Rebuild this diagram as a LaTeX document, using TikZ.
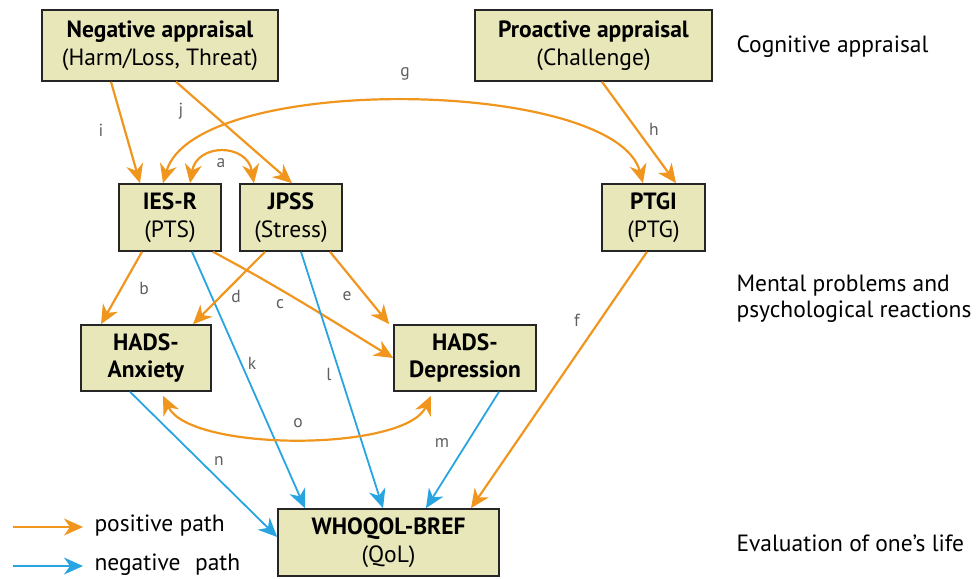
\documentclass[tikz,border=0pt]{standalone}
\usepackage{fontspec}
\setmainfont{PT Sans}[BoldFont={PT Sans Bold}]
\usetikzlibrary{arrows.meta}
\definecolor{pos}{RGB}{240,150,30}
\definecolor{neg}{RGB}{40,165,225}
\definecolor{boxfill}{RGB}{232,231,186}
\definecolor{lblgray}{RGB}{95,95,95}
\begin{document}
\begin{tikzpicture}[x=1pt,y=-1pt,
  box/.style={draw=black!85,line width=1.6pt,fill=boxfill,align=center,inner sep=0pt,
    font=\fontsize{23.5}{27.5}\selectfont},
  side/.style={anchor=west,align=left,font=\fontsize{23.5}{26.5}\selectfont},
  lbl/.style={text=lblgray,font=\fontsize{17.5}{20}\selectfont,inner sep=0pt},
  tipa/.tip={Stealth[length=19pt,width=17pt,inset=6pt]},
  parr/.style={draw=pos,line width=2.2pt,-tipa},
  pboth/.style={draw=pos,line width=2.2pt,tipa-tipa},
  narr/.style={draw=neg,line width=1.8pt,-tipa}]
\useasboundingbox (0,0) rectangle (976,578);

% boxes
\node[box,minimum width=236pt,minimum height=71pt] (negap) at (160,45.5) {\textbf{Negative appraisal}\\(Harm/Loss, Threat)};
\node[box,minimum width=237pt,minimum height=71pt] (proap) at (593.5,45.5) {\textbf{Proactive appraisal}\\(Challenge)};
\node[box,minimum width=102pt,minimum height=67pt] (ies) at (170,217.5) {\textbf{IES-R}\\(PTS)};
\node[box,minimum width=102pt,minimum height=67pt] (jpss) at (291,217.5) {\textbf{JPSS}\\(Stress)};
\node[box,minimum width=103pt,minimum height=67pt] (ptgi) at (653.5,217.5) {\textbf{PTGI}\\(PTG)};
\node[box,minimum width=130pt,minimum height=66pt] (anx) at (146,358) {\textbf{HADS-}\\\textbf{Anxiety}};
\node[box,minimum width=142pt,minimum height=66pt] (dep) at (465,358) {\textbf{HADS-}\\\textbf{Depression}};
\node[box,minimum width=221pt,minimum height=67pt] (who) at (388.5,542.5) {\textbf{WHOQOL-BREF}\\(QoL)};

% side labels
\node[side] (s1) at (733,47) {Cognitive appraisal};
\node[side] (s2) at (733,299) {Mental problems and\\psychological reactions};
\node[side] (s3) at (733,543) {Evaluation of one’s life};

% connectors
\draw[parr] ([xshift=-49pt]negap.south) -- ([xshift=-30pt]ies.north);
\draw[parr] ([xshift=16pt]negap.south) -- ([xshift=1pt]jpss.north);
\draw[parr] ([xshift=8.5pt]proap.south) -- ([xshift=22.5pt]ptgi.north);
\draw[pboth] ([xshift=-7pt]ies.north) .. controls (195,72) and (615,78) .. ([xshift=-10.5pt]ptgi.north);
\draw[pboth] ([xshift=20pt]ies.north) .. controls (197,143) and (247,143) .. ([xshift=-37pt]jpss.north);
\draw[parr] ([xshift=-28pt]ies.south) -- ([xshift=-45pt]anx.north);
\draw[narr] ([xshift=22pt]ies.south) -- ([xshift=-83.5pt]who.north);
\draw[parr] ([xshift=43pt]ies.south) .. controls (285,290) and (350,332) .. (dep.west);
\draw[parr] ([xshift=-26pt]jpss.south) -- ([xshift=47pt]anx.north);
\draw[narr] ([xshift=10pt]jpss.south) -- ([xshift=-5.5pt]who.north);
\draw[parr] ([xshift=39pt]jpss.south) -- ([xshift=-4pt]dep.north west);
\draw[parr] ([xshift=-6.5pt]ptgi.south) -- ([xshift=82.5pt]who.north);
\draw[narr] ([xshift=34pt]dep.south) -- ([xshift=37.5pt]who.north);
\draw[narr] ([xshift=-16pt]anx.south) -- ([yshift=5.5pt]who.west);
\draw[pboth] ([xshift=17pt,yshift=-4pt]anx.south) .. controls (190,452) and (405,452) .. ([xshift=-34pt,yshift=-4pt]dep.south);

% edge labels
\node[lbl] (la) at (221,163) {a};
\node[lbl] (lb) at (144,288) {b};
\node[lbl] (lc) at (280,304) {c};
\node[lbl] (ld) at (236,296) {d};
\node[lbl] (le) at (347,296) {e};
\node[lbl] (lf) at (577,320) {f};
\node[lbl] (lg) at (405,74) {g};
\node[lbl] (lh) at (654,129) {h};
\node[lbl] (li) at (101,130) {i};
\node[lbl] (lj) at (181,111) {j};
\node[lbl] (lk) at (252,363) {k};
\node[lbl] (ll) at (329,374) {l};
\node[lbl] (lm) at (442,443) {m};
\node[lbl] (ln) at (219,461) {n};
\node[lbl] (lo) at (298,423) {o};

% legend
\coordinate (lp1) at (13,527);
\coordinate (lp2) at (83,527);
\coordinate (ln1) at (13,566);
\coordinate (ln2) at (83,566);
\draw[parr] (lp1) -- (lp2);
\draw[narr] (ln1) -- (ln2);
\node[side] (tpos) at (91,526) {positive path};
\node[side] (tneg) at (91,565) {negative\hspace{0.35em} path};
\end{tikzpicture}
\end{document}
